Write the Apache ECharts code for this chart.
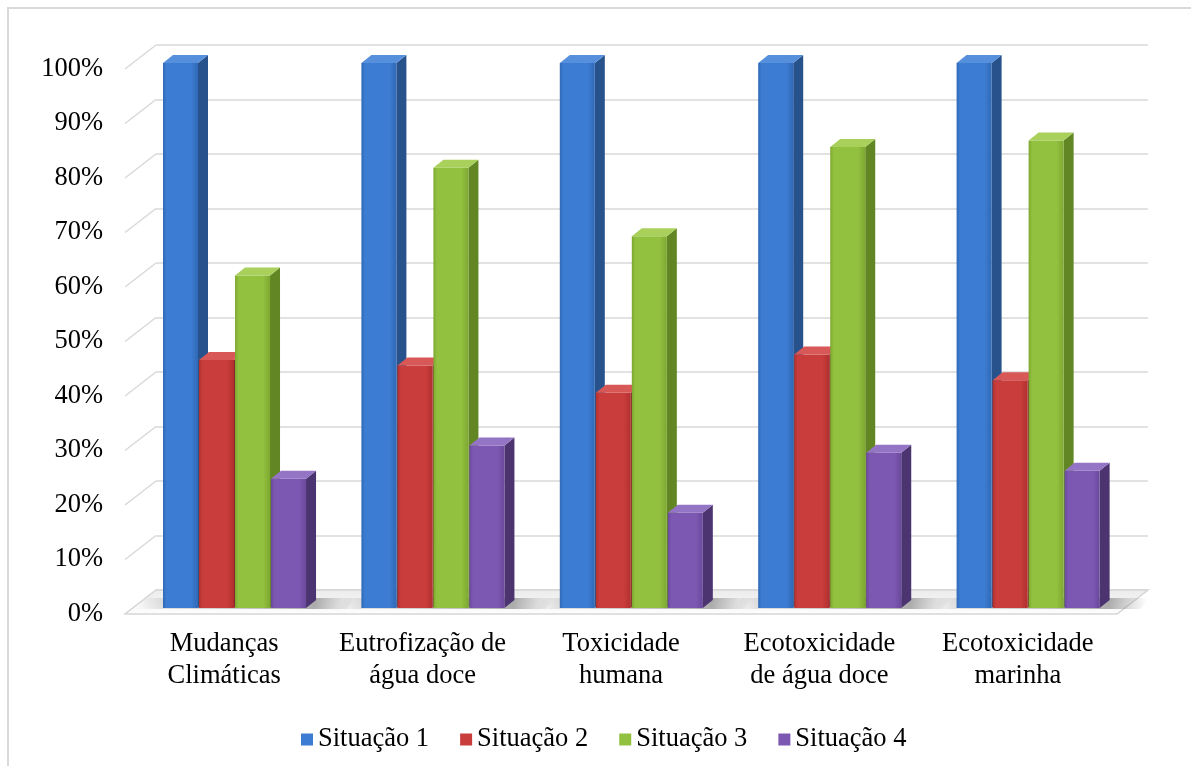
<!DOCTYPE html>
<html>
<head>
<meta charset="utf-8">
<script src="https://cdn.jsdelivr.net/npm/echarts@6/dist/echarts.min.js"></script>
<style>
html,body{margin:0;padding:0;background:#fff;}
#chart{width:1191px;height:766px;}
</style>
</head>
<body>
<div id="chart"></div>
<script>
// ---- data ----
const categories = [
  'Mudanças\nClimáticas',
  'Eutrofização de\nágua doce',
  'Toxicidade\nhumana',
  'Ecotoxicidade\nde água doce',
  'Ecotoxicidade\nmarinha'
];
const seriesNames = ['Situação 1', 'Situação 2', 'Situação 3', 'Situação 4'];
const situacao1 = [100, 100, 100, 100, 100];
const situacao2 = [45.5, 44.5, 39.5, 46.5, 41.8];
const situacao3 = [61.0, 80.8, 68.2, 84.6, 85.8];
const situacao4 = [23.7, 29.8, 17.5, 28.5, 25.2];
const yTickValues = [0, 10, 20, 30, 40, 50, 60, 70, 80, 90, 100];

// ---- styling ----
const FONT = '"Liberation Serif", "Times New Roman", serif';
const FONT_SIZE = 26.5;
const palette = [
  { front: ['#3c7cd2', '#3069b6'], side: '#27528c', top: '#5690dc' },
  { front: ['#c93d3c', '#b0302f'], side: '#862424', top: '#d75856' },
  { front: ['#92c03f', '#7ea831'], side: '#628623', top: '#a8d05a' },
  { front: ['#7d58b2', '#6a499c'], side: '#4b3470', top: '#9474c5' }
];
// oblique depth of the whole plot box (front plane -> back wall)
const DEPTH_X = 31, DEPTH_Y = -24;
// bars stand a quarter of the way into the box
const BAR_DX = 8, BAR_DY = -6;
// depth of one bar
const BAR_DEPTH_X = 10, BAR_DEPTH_Y = -8;
const GROUP_LEFT = 0.3085;  // left edge of the first bar, as a fraction of the band, from its centre
const BAR_FRAC = 0.1815;    // width of a single bar as a fraction of the band

const seriesValues = [situacao1, situacao2, situacao3, situacao4];

function barRenderer(s) {
  return function (params, api) {
    const ci = api.value(0), v = api.value(1);
    const band = api.size([1, 0])[0];
    const top = api.coord([ci, v]);
    const base = api.coord([ci, 0]);
    const w = band * BAR_FRAC;
    const x0 = top[0] - band * GROUP_LEFT + s * w;
    const x1 = x0 + w - 1;
    const yT = top[1] + BAR_DY;
    const yB = base[1] + BAR_DY;
    const c = palette[s];
    return {
      type: 'group',
      children: [
        {
          type: 'polygon',
          shape: { points: [[x1, yB], [x1 + BAR_DEPTH_X, yB + BAR_DEPTH_Y], [x1 + BAR_DEPTH_X, yT + BAR_DEPTH_Y], [x1, yT]] },
          style: { fill: c.side }
        },
        {
          type: 'rect',
          shape: { x: x0, y: yT, width: x1 - x0, height: yB - yT },
          style: {
            fill: new echarts.graphic.LinearGradient(0, 0, 1, 0, [
              { offset: 0, color: c.front[1] },
              { offset: 0.1, color: c.front[0] },
              { offset: 0.8, color: c.front[0] },
              { offset: 1, color: c.front[1] }
            ])
          }
        },
        {
          type: 'polygon',
          shape: { points: [[x0, yT], [x1, yT], [x1 + BAR_DEPTH_X, yT + BAR_DEPTH_Y], [x0 + BAR_DEPTH_X, yT + BAR_DEPTH_Y]] },
          style: { fill: c.top }
        }
      ]
    };
  };
}

// floor, shadows and side-wall diagonals
function boxRenderer(params, api) {
  const band = api.size([1, 0])[0];
  const first = api.coord([0, 0]);
  const last = api.coord([categories.length - 1, 0]);
  const xL = first[0] - band / 2, xR = last[0] + band / 2;
  const y0 = first[1];
  const children = [];
  children.push({
    type: 'polygon',
    shape: { points: [[xL, y0], [xR, y0], [xR + DEPTH_X, y0 + DEPTH_Y], [xL + DEPTH_X, y0 + DEPTH_Y]] },
    style: {
      fill: new echarts.graphic.LinearGradient(0, 1, 0, 0, [
        { offset: 0, color: '#ffffff' },
        { offset: 0.35, color: '#f6f6f6' },
        { offset: 1, color: '#ebebeb' }
      ]),
      stroke: '#d6d6d6', lineWidth: 1.5
    }
  });
  // soft shadow beside each group on the floor
  for (let i = 0; i < categories.length; i++) {
    const c = api.coord([i, 0]);
    const gx0 = c[0] - band * GROUP_LEFT;
    const gx1 = gx0 + 4 * band * BAR_FRAC;
    const sx0 = gx0 - 24, sx1 = gx1 + 48;
    const yF = y0 + BAR_DY + 1, yK = y0 + BAR_DY + BAR_DEPTH_Y - 2;
    const span = sx1 - sx0;
    children.push({
      type: 'polygon',
      shape: { points: [[sx0, yF], [sx1 - 8, yF], [sx1, yK], [sx0 + 8, yK]] },
      style: {
        fill: new echarts.graphic.LinearGradient(0, 0, 1, 0, [
          { offset: 0, color: 'rgba(110,110,110,0)' },
          { offset: (gx0 - sx0) / span, color: 'rgba(110,110,110,0.18)' },
          { offset: (gx1 + 8 - sx0) / span, color: 'rgba(70,70,70,0.42)' },
          { offset: 1, color: 'rgba(110,110,110,0)' }
        ])
      }
    });
  }
  // side-wall diagonals for each tick
  yTickValues.forEach(function (t) {
    if (t === 0) return;
    const p = api.coord([0, t]);
    children.push({
      type: 'line',
      shape: { x1: xL, y1: p[1], x2: xL + DEPTH_X, y2: p[1] + DEPTH_Y },
      style: { stroke: '#d9d9d9', lineWidth: 1.5 }
    });
  });
  return { type: 'group', children: children };
}

const chart = echarts.init(document.getElementById('chart'), null, { renderer: 'canvas' });

const frontGrid = { left: 125, right: 74, top: 69, bottom: 152 };
const backGrid = {
  left: frontGrid.left + DEPTH_X,
  right: frontGrid.right - DEPTH_X,
  top: frontGrid.top + DEPTH_Y,
  bottom: frontGrid.bottom - DEPTH_Y
};

const series = [
  {
    type: 'custom',
    name: 'box',
    xAxisIndex: 0, yAxisIndex: 0,
    renderItem: boxRenderer,
    data: [[0, 0]],
    z: 1,
    silent: true,
    legendHoverLink: false
  }
];
seriesNames.forEach(function (name, s) {
  series.push({
    type: 'custom',
    name: name,
    xAxisIndex: 0, yAxisIndex: 0,
    renderItem: barRenderer(s),
    itemStyle: { color: palette[s].front[0] },
    encode: { x: 0, y: 1 },
    data: seriesValues[s].map(function (v, i) { return [i, v]; }),
    z: 3 + s
  });
});

chart.setOption({
  animation: false,
  backgroundColor: '#ffffff',
  graphic: [{
    type: 'rect',
    shape: { x: 8, y: 8, width: 1300, height: 900 },
    style: { fill: 'none', stroke: '#d9d9d9', lineWidth: 2 },
    z: 0
  }],
  grid: [
    Object.assign({}, frontGrid),
    Object.assign({}, backGrid)
  ],
  xAxis: [
    {
      type: 'category', gridIndex: 0, data: categories,
      axisLine: { show: false }, axisTick: { show: false },
      axisLabel: {
        color: '#000', fontFamily: FONT, fontSize: FONT_SIZE, lineHeight: 32,
        margin: 14, interval: 0
      }
    },
    {
      type: 'category', gridIndex: 1, data: categories, show: false
    }
  ],
  yAxis: [
    {
      type: 'value', gridIndex: 0, min: 0, max: 100, interval: 10,
      axisLine: { show: false }, axisTick: { show: false },
      splitLine: { show: false },
      axisLabel: {
        color: '#000', fontFamily: FONT, fontSize: FONT_SIZE, margin: 22,
        formatter: function (v) { return v + '%'; }
      }
    },
    {
      type: 'value', gridIndex: 1, min: 0, max: 100, interval: 10,
      axisLine: { show: false }, axisTick: { show: false },
      axisLabel: { show: false },
      splitLine: { show: true, lineStyle: { color: '#d9d9d9', width: 1.5 } }
    }
  ],
  legend: {
    data: seriesNames,
    left: 296, top: 721,
    icon: 'rect', itemWidth: 12, itemHeight: 12, itemGap: 31,
    textStyle: { color: '#000', fontFamily: FONT, fontSize: FONT_SIZE }
  },
  series: series
});
</script>
</body>
</html>
